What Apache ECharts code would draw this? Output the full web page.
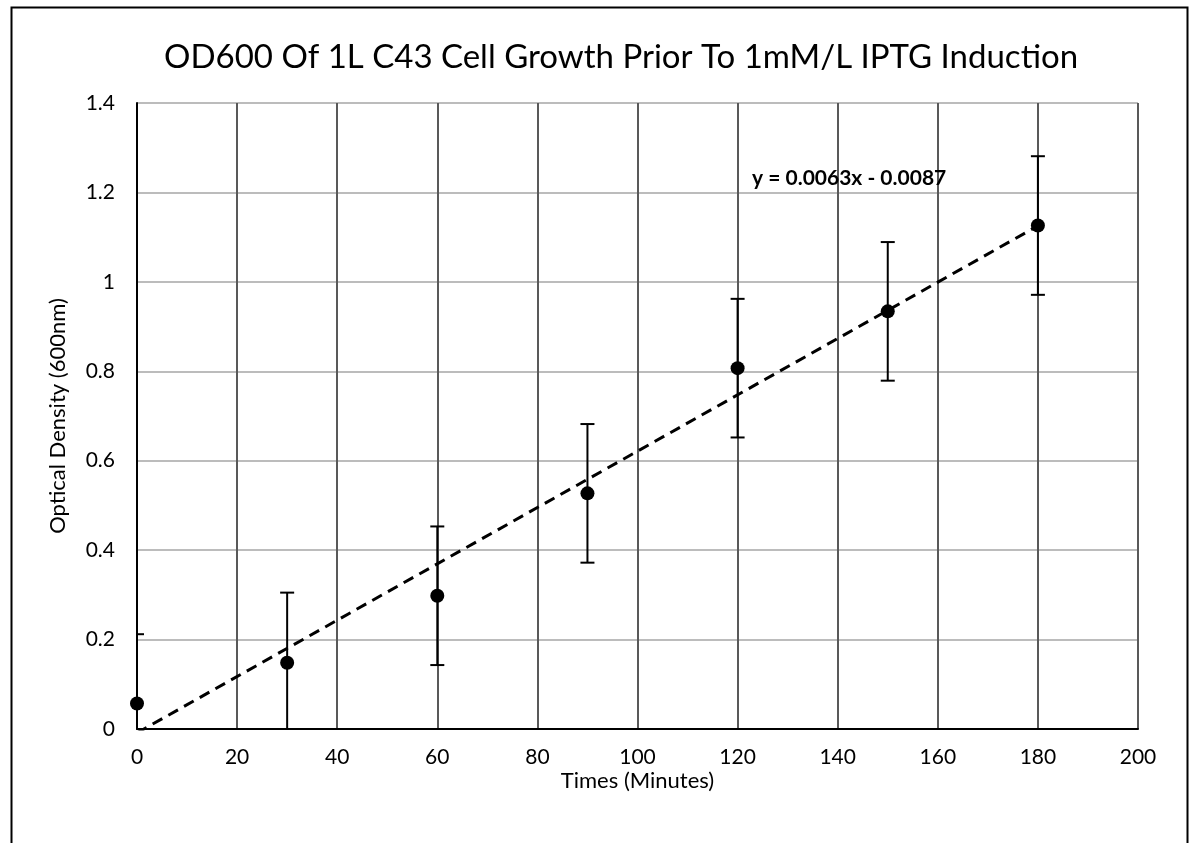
<!DOCTYPE html>
<html>
<head>
<meta charset="utf-8">
<script src="https://cdn.jsdelivr.net/npm/echarts@6/dist/echarts.min.js"></script>
<style>
  html, body { margin: 0; padding: 0; background: #fff; }
  #chart { width: 1191px; height: 843px; }
</style>
</head>
<body>
<div id="chart"></div>
<script>
// measured OD600 readings
var times = [0, 30, 60, 90, 120, 150, 180];
var odValues = [0.057, 0.148, 0.298, 0.527, 0.807, 0.934, 1.126];
var odErrors = [0.155, 0.157, 0.155, 0.155, 0.155, 0.155, 0.155];
// linear trendline shown on the chart
var trendSlope = 0.0063;
var trendIntercept = -0.0087;
var trendRange = [0, 180];

var FONT = 'Lato, "Open Sans", sans-serif';

var chart = echarts.init(document.getElementById('chart'));

var points = times.map(function (t, i) { return [t, odValues[i]]; });
var bars = times.map(function (t, i) { return [t, odValues[i] - odErrors[i], odValues[i] + odErrors[i]]; });
var trend = trendRange.map(function (x) { return [x, trendSlope * x + trendIntercept]; });

chart.setOption({
  animation: false,
  backgroundColor: '#fff',
  textStyle: { fontFamily: FONT },
  title: {
    text: 'OD600 Of 1L C43 Cell Growth Prior To 1mM/L IPTG Induction',
    left: 159,
    top: 36,
    textStyle: { fontFamily: FONT, fontSize: 33, fontWeight: 'normal', color: '#000' }
  },
  grid: { left: 137, right: 53, top: 103, bottom: 114 },
  xAxis: {
    type: 'value',
    min: 0, max: 200, interval: 20,
    name: 'Times (Minutes)',
    nameLocation: 'middle',
    nameGap: 41,
    nameMoveOverlap: false,
    nameTextStyle: { fontSize: 22, color: '#000', fontFamily: FONT },
    axisLine: { show: true, onZero: false, lineStyle: { color: '#000', width: 2 } },
    axisTick: { show: false },
    axisLabel: { fontSize: 21, color: '#000', margin: 18, fontFamily: FONT },
    splitLine: { show: true, lineStyle: { color: '#595959', width: 2 } }
  },
  yAxis: {
    type: 'value',
    min: 0, max: 1.4, interval: 0.2,
    name: 'Optical Density (600nm)',
    nameLocation: 'middle',
    nameGap: 68,
    nameTextStyle: { fontSize: 22, color: '#000', fontFamily: FONT },
    axisLine: { show: true, lineStyle: { color: '#000', width: 2 } },
    axisTick: { show: false },
    axisLabel: { fontSize: 21, color: '#000', margin: 22, fontFamily: FONT },
    splitLine: { show: true, lineStyle: { color: '#a6a6a6', width: 1.5 } }
  },
  series: [
    {
      type: 'line',
      data: trend,
      showSymbol: false,
      symbol: 'none',
      clip: true,
      lineStyle: { color: '#000', width: 3, type: [11, 7] },
      z: 2
    },
    {
      type: 'custom',
      data: bars,
      clip: true,
      encode: { x: 0, y: [1, 2] },
      renderItem: function (params, api) {
        var x = api.value(0);
        var lo = api.coord([x, api.value(1)]);
        var hi = api.coord([x, api.value(2)]);
        var cap = 7;
        var style = { stroke: '#000', lineWidth: 2 };
        return {
          type: 'group',
          children: [
            { type: 'line', shape: { x1: lo[0], y1: lo[1], x2: hi[0], y2: hi[1] }, style: style },
            { type: 'line', shape: { x1: hi[0] - cap, y1: hi[1], x2: hi[0] + cap, y2: hi[1] }, style: style },
            { type: 'line', shape: { x1: lo[0] - cap, y1: lo[1], x2: lo[0] + cap, y2: lo[1] }, style: style }
          ]
        };
      },
      z: 3
    },
    {
      type: 'scatter',
      data: points,
      symbol: 'circle',
      symbolSize: 14,
      itemStyle: { color: '#000', opacity: 1 },
      z: 4
    }
  ],
  graphic: [
    {
      type: 'rect',
      left: 9, top: 5,
      shape: { width: 1176, height: 850 },
      style: { fill: 'none', stroke: '#000', lineWidth: 2 },
      silent: true
    },
    {
      type: 'text',
      left: 752, top: 168,
      style: { text: 'y = 0.0063x - 0.0087', font: 'bold 21px ' + FONT, fill: '#000' },
      z: 10
    }
  ]
});
</script>
</body>
</html>
